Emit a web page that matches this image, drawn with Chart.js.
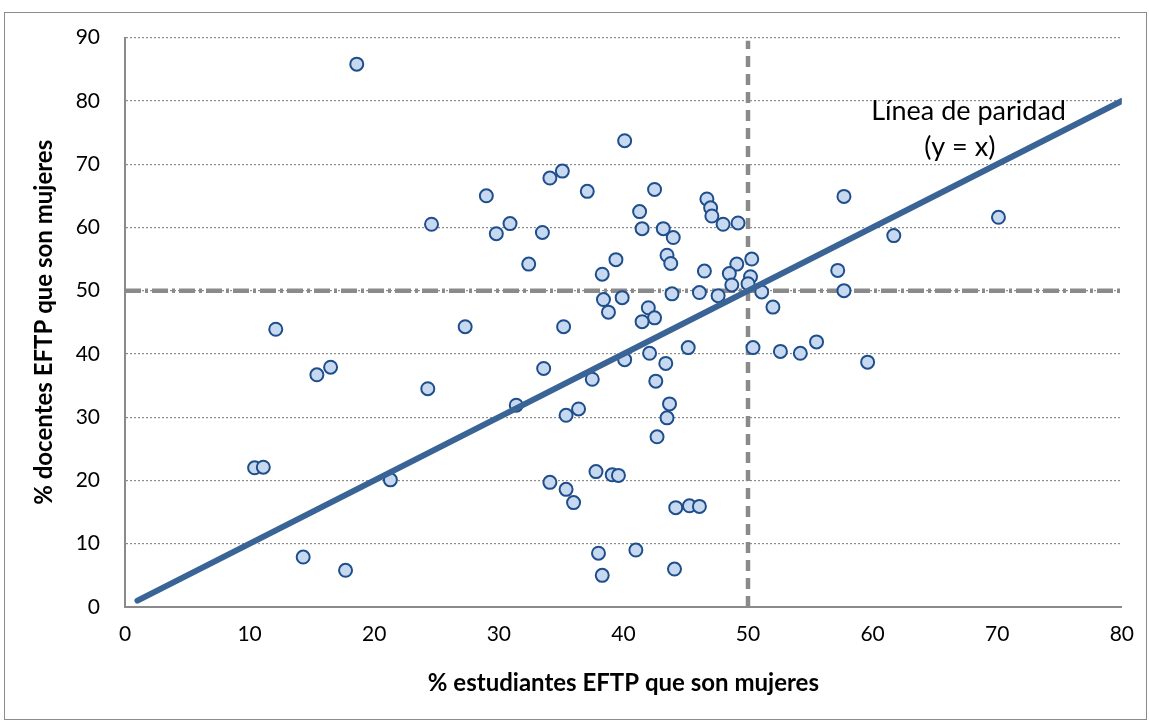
<!DOCTYPE html>
<html lang="es">
<head>
    <meta charset="UTF-8">
    <title>Paridad EFTP</title>
    <script src="https://cdn.jsdelivr.net/npm/chart.js"></script>
    <style>
        body { margin: 0; background: #fff; }
        #wrap { position: relative; width: 1149px; height: 720px; }
        #frame { position: absolute; left: 4px; top: 12px; width: 1141px; height: 706px; border: 1px solid #8c8c8c; pointer-events: none; }
    </style>
</head>
<body>
<div id="wrap">
    <canvas id="chart" width="1149" height="720"></canvas>
    <div id="frame"></div>
</div>
<script>
    // % students (x) and % teachers (y) in TVET who are women, per country
    const studentsPct = [18.6, 40.1, 35.1, 34.1, 37.1, 29.0, 57.7, 46.7, 47.0, 47.1,
        42.5, 70.1, 49.2, 48.0, 24.6, 30.9, 41.3, 41.5, 43.2, 29.8,
        33.5, 44.0, 61.7, 32.4, 43.5, 43.8, 39.4, 50.3, 46.5, 49.1,
        50.2, 48.5, 57.2, 38.3, 48.7, 50.0, 51.1, 57.7, 43.9, 46.1,
        47.6, 38.4, 39.9, 38.8, 42.0, 42.5, 41.5, 52.0, 35.2, 27.3,
        12.1, 55.5, 45.2, 50.4, 52.6, 54.2, 42.1, 40.1, 59.6, 43.4,
        16.5, 15.4, 33.6, 37.5, 42.6, 24.3, 43.7, 31.4, 36.4, 35.4,
        43.5, 42.7, 10.4, 11.1, 37.8, 39.1, 39.6, 21.3, 34.1, 35.4,
        36.0, 44.2, 45.3, 46.1, 38.0, 41.0, 14.3, 17.7, 38.3, 44.1];
    const teachersPct = [85.8, 73.7, 68.9, 67.8, 65.7, 65.0, 64.9, 64.5, 63.1, 61.8,
        66.0, 61.6, 60.7, 60.5, 60.5, 60.6, 62.5, 59.8, 59.8, 59.0,
        59.2, 58.4, 58.7, 54.2, 55.6, 54.3, 54.9, 55.0, 53.1, 54.2,
        52.2, 52.7, 53.2, 52.6, 50.9, 51.1, 49.8, 50.0, 49.5, 49.7,
        49.2, 48.6, 48.9, 46.6, 47.3, 45.7, 45.1, 47.4, 44.3, 44.3,
        43.9, 41.9, 41.0, 41.0, 40.4, 40.1, 40.1, 39.1, 38.7, 38.5,
        37.9, 36.7, 37.7, 36.0, 35.7, 34.5, 32.1, 31.9, 31.3, 30.3,
        29.9, 26.9, 22.0, 22.1, 21.4, 20.9, 20.8, 20.1, 19.7, 18.6,
        16.5, 15.7, 16.0, 15.9, 8.5, 9.0, 7.9, 5.8, 5.0, 6.0];

    const parityLine = [[1, 1], [80, 80]];
    const refH = [[0, 50], [80, 50]];
    const refV = [[50, 0], [50, 89.5]];
    const parityLabel = ['Línea de paridad', '(y = x)'];
    const parityLabelPos = [[67.7, 78.4], [67.0, 72.7]];

    const toXY = arr => arr.map(p => ({ x: p[0], y: p[1] }));
    const points = studentsPct.map((x, i) => ({ x: x, y: teachersPct[i] }));

    const gray = '#8a8a8a';
    const font = 'Lato, "Open Sans", sans-serif';

    const labelPlugin = {
        id: 'parityLabel',
        afterDatasetsDraw(chart) {
            const { ctx, scales: { x, y } } = chart;
            ctx.save();
            ctx.font = '27px ' + font;
            ctx.fillStyle = '#000';
            ctx.textAlign = 'center';
            ctx.textBaseline = 'middle';
            parityLabel.forEach((t, i) => {
                ctx.fillText(t, x.getPixelForValue(parityLabelPos[i][0]), y.getPixelForValue(parityLabelPos[i][1]));
            });
            ctx.restore();
        }
    };

    new Chart(document.getElementById('chart'), {
        type: 'scatter',
        data: {
            datasets: [
                {
                    type: 'line',
                    data: toXY(parityLine),
                    borderColor: '#3a6496',
                    borderWidth: 6,
                    borderCapStyle: 'round',
                    pointRadius: 0,
                    fill: false,
                    order: 0
                },
                {
                    data: points,
                    backgroundColor: '#c6d9f1',
                    borderColor: '#1f4e8a',
                    borderWidth: 2,
                    pointRadius: 6.5,
                    order: 1
                },
                {
                    type: 'line',
                    data: toXY(refH),
                    borderColor: gray,
                    borderWidth: 4.5,
                    borderDash: [16, 4, 3, 4],
                    pointRadius: 0,
                    fill: false,
                    order: 2
                },
                {
                    type: 'line',
                    data: toXY(refV),
                    borderColor: gray,
                    borderWidth: 4.5,
                    borderDash: [11, 7],
                    pointRadius: 0,
                    fill: false,
                    order: 2
                }
            ]
        },
        options: {
            responsive: false,
            animation: false,
            layout: { padding: { left: 0, right: 24, top: 34, bottom: 0 } },
            plugins: {
                legend: { display: false },
                tooltip: { enabled: false }
            },
            scales: {
                x: {
                    type: 'linear',
                    min: 0,
                    max: 80,
                    afterFit: s => { s.height = 113; },
                    ticks: { stepSize: 10, padding: 15, color: '#000', font: { family: font, size: 21 } },
                    grid: { display: false, drawTicks: false },
                    border: { display: true, color: gray, width: 2 },
                    title: {
                        display: true,
                        text: '% estudiantes EFTP que son mujeres',
                        color: '#000',
                        font: { family: font, size: 24, weight: 'bold' },
                        padding: { top: 0, bottom: 22 }
                    }
                },
                y: {
                    min: 0,
                    max: 90,
                    afterFit: s => { s.width = 125; },
                    ticks: { stepSize: 10, padding: 25, color: '#000', font: { family: font, size: 21 } },
                    grid: {
                        drawTicks: false,
                        color: '#8c8c8c',
                        lineWidth: 1.2
                    },
                    border: { display: true, color: gray, width: 2, dash: [2, 2] },
                    title: {
                        display: true,
                        text: '% docentes EFTP que son mujeres',
                        color: '#000',
                        font: { family: font, size: 24, weight: 'bold' },
                        padding: { top: 30, bottom: 0 }
                    }
                }
            }
        },
        plugins: [labelPlugin]
    });
</script>
</body>
</html>
